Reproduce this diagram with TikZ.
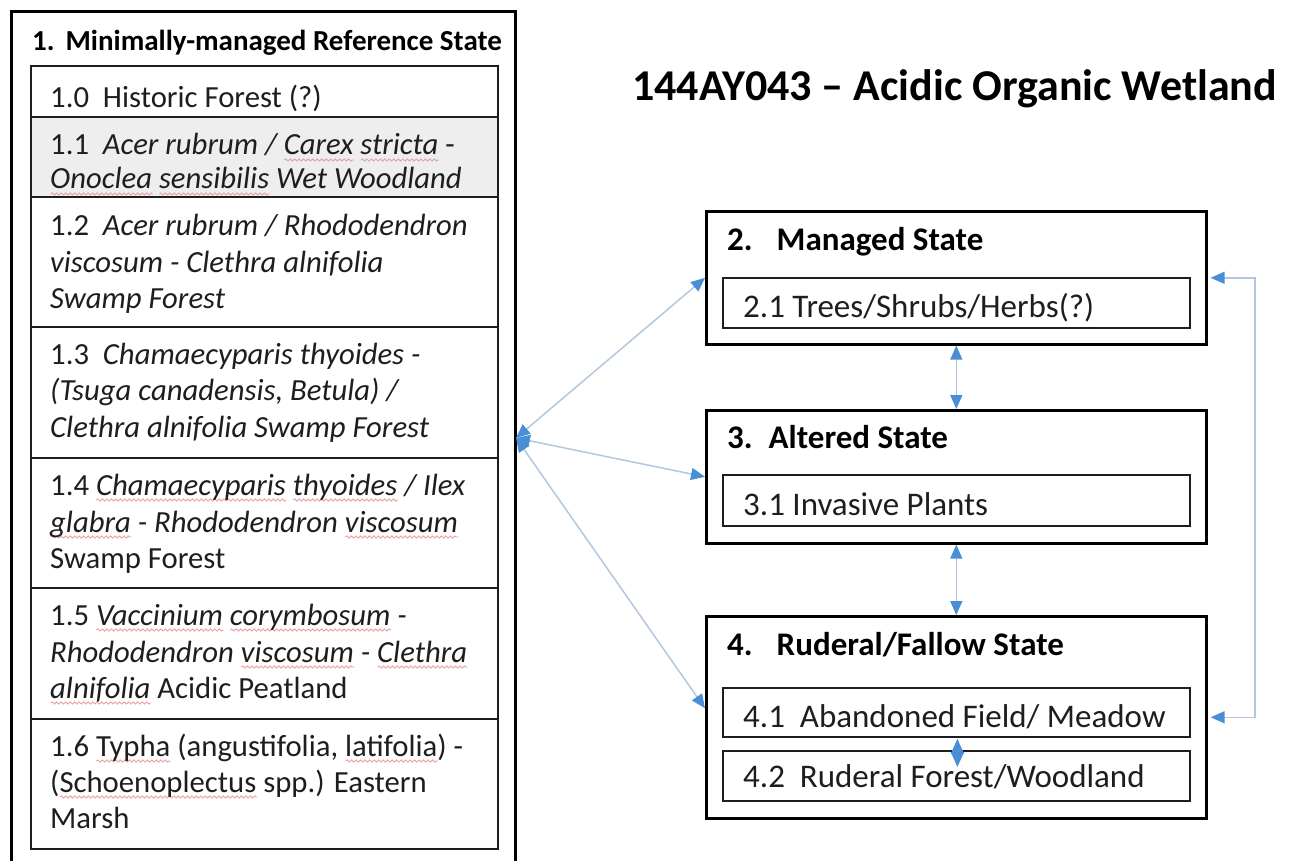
\documentclass[tikz,border=0pt]{standalone}
\usepackage{fontspec}
\setmainfont{Carlito}
\usetikzlibrary{arrows.meta,decorations.pathmorphing}
\definecolor{headblue}{HTML}{4A8FD6}
\definecolor{lineblue}{HTML}{B3C8DE}
\definecolor{boxgray}{HTML}{EEEEEE}
\definecolor{inkgray}{HTML}{1E1E1E}
\definecolor{squigred}{HTML}{E8A0A0}
\newsavebox\sqbox
\newcommand\squig[1]{\sbox\sqbox{#1}\makebox[0pt][l]{\tikz[baseline=0pt,x=1pt,y=1pt]{\draw[squigred, line width=0.9pt, decorate, decoration={snake, amplitude=1.1pt, segment length=4.5pt}] (0pt,-5pt) -- (\the\wd\sqbox,-5pt);}}\usebox\sqbox}
\tikzset{
  outerbox/.style={draw=black, line width=2.6pt, anchor=north west, inner sep=0pt},
  innerbox/.style={draw=inkgray, line width=1.8pt, anchor=north west, inner sep=0pt},
  body/.style={anchor=base west, inner sep=0pt, text=inkgray, font=\fontsize{30.7}{36}\selectfont},
  rbody/.style={anchor=base west, inner sep=0pt, text=inkgray, font=\fontsize{33}{39}\selectfont},
  head/.style={anchor=base west, inner sep=0pt, text=black, font=\fontsize{33}{39}\selectfont\bfseries},
  conn/.style={draw=lineblue, line width=1.5pt, {Triangle[length=14pt,width=12pt,color=headblue]}-{Triangle[length=14pt,width=12pt,color=headblue]}},
  smallconn/.style={draw=lineblue, line width=1.4pt, {Triangle[length=15pt,width=13pt,color=headblue]}-{Triangle[length=15pt,width=13pt,color=headblue]}}
}
\begin{document}
\begin{tikzpicture}[x=1pt,y=-1pt]
\useasboundingbox (0,0) rectangle (1295,861);
\fill[white] (0,0) rectangle (1295,861);
% ---------- state 1 ----------
\node[outerbox, minimum width=504pt, minimum height=852pt] (b1) at (10,10) {};
\node[head, font=\fontsize{29}{35}\selectfont\bfseries] (h1) at (32,51) {1.\hspace*{11pt}Minimally-managed Reference State};
\node[innerbox, minimum width=467pt, minimum height=51pt] (b10) at (30,65) {};
\node[innerbox, fill=boxgray, minimum width=467pt, minimum height=80pt] (b11) at (30,116) {};
\node[innerbox, minimum width=467pt, minimum height=130pt] (b12) at (30,196) {};
\node[innerbox, minimum width=467pt, minimum height=131pt] (b13) at (30,326) {};
\node[innerbox, minimum width=467pt, minimum height=130pt] (b14) at (30,457) {};
\node[innerbox, minimum width=467pt, minimum height=131pt] (b15) at (30,587) {};
\node[innerbox, minimum width=467pt, minimum height=130pt] (b16) at (30,718) {};
\node[body] (t10) at (50,108) {1.0\ \ Historic Forest (?)};
\node[body] (t11a) at (50,155) {1.1\ \ \textit{Acer rubrum / \squig{Carex} \squig{stricta}} -};
\node[body] (t11b) at (50,189) {\textit{\squig{Onoclea} \squig{sensibilis} Wet Woodland}};
\node[body] (t12a) at (50,235) {1.2\ \ \textit{Acer rubrum / Rhododendron}};
\node[body] (t12b) at (50,272) {\textit{viscosum - Clethra alnifolia}};
\node[body] (t12c) at (50,308) {\textit{Swamp Forest}};
\node[body] (t13a) at (50,364) {1.3\ \ \textit{Chamaecyparis thyoides -}};
\node[body] (t13b) at (50,400) {\textit{(Tsuga canadensis, Betula) /}};
\node[body] (t13c) at (50,437) {\textit{Clethra alnifolia Swamp Forest}};
\node[body] (t14a) at (50,495) {1.4 \textit{\squig{Chamaecyparis} \squig{thyoides} / Ilex}};
\node[body] (t14b) at (50,532) {\textit{\squig{glabra} - Rhododendron \squig{viscosum}}};
\node[body] (t14c) at (50,568) {Swamp Forest};
\node[body] (t15a) at (50,625) {1.5 \textit{\squig{Vaccinium} \squig{corymbosum} -}};
\node[body] (t15b) at (50,662) {\textit{Rhododendron \squig{viscosum} - \squig{Clethra}}};
\node[body] (t15c) at (50,698) {\textit{\squig{alnifolia}} Acidic Peatland};
\node[body] (t16a) at (50,756) {1.6 \squig{Typha} (angustifolia, \squig{latifolia}) -};
\node[body] (t16b) at (50,792) {(\squig{Schoenoplectus} spp.) Eastern};
\node[body] (t16c) at (50,828) {Marsh};
% ---------- title ----------
\node[anchor=base west, inner sep=0pt, font=\fontsize{44}{52}\selectfont\bfseries] (title) at (632,101) {144AY043 -- Acidic Organic Wetland};
% ---------- state 2 ----------
\node[outerbox, minimum width=500pt, minimum height=133pt] (b2) at (705,210) {};
\node[head] (h2) at (727,250) {2.\hspace*{24pt}Managed State};
\node[innerbox, minimum width=467pt, minimum height=50pt] (b21) at (722,277) {};
\node[rbody] (t21) at (743,317) {2.1 Trees/Shrubs/Herbs(?)};
% ---------- state 3 ----------
\node[outerbox, minimum width=500pt, minimum height=133pt] (b3) at (705,409) {};
\node[head] (h3) at (727,448) {3.\hspace*{16pt}Altered State};
\node[innerbox, minimum width=467pt, minimum height=51pt] (b31) at (722,474) {};
\node[rbody] (t31) at (743,515) {3.1 Invasive Plants};
% ---------- state 4 ----------
\node[outerbox, minimum width=500pt, minimum height=202pt] (b4) at (705,615) {};
\node[head] (h4) at (727,655) {4.\hspace*{24pt}Ruderal/Fallow State};
\node[innerbox, minimum width=467pt, minimum height=49pt] (b41) at (722,687) {};
\node[rbody] (t41) at (743,727) {4.1\ \ Abandoned Field/ Meadow};
\node[innerbox, minimum width=467pt, minimum height=50pt] (b42) at (722,750) {};
\node[rbody] (t42) at (743,787) {4.2\ \ Ruderal Forest/Woodland};
% ---------- connectors ----------
\coordinate (src) at (516,438);
\coordinate (rc) at (1255,0);
\draw[conn] (src) -- (b2.west);
\draw[conn] (src) -- (b3.west);
\draw[conn] (src) -- ([yshift=9pt]b4.west);
\draw[conn] (b2.south) -- (b3.north);
\draw[conn] (b3.south) -- (b4.north);
\draw[smallconn] ([xshift=1pt,yshift=-1pt]b41.south) -- ([xshift=1pt,yshift=-17pt]b42.north);
\draw[conn] ([xshift=3pt]b2.east) -| (rc |- b4.east) -- ([xshift=3pt]b4.east);
\end{tikzpicture}
\end{document}
